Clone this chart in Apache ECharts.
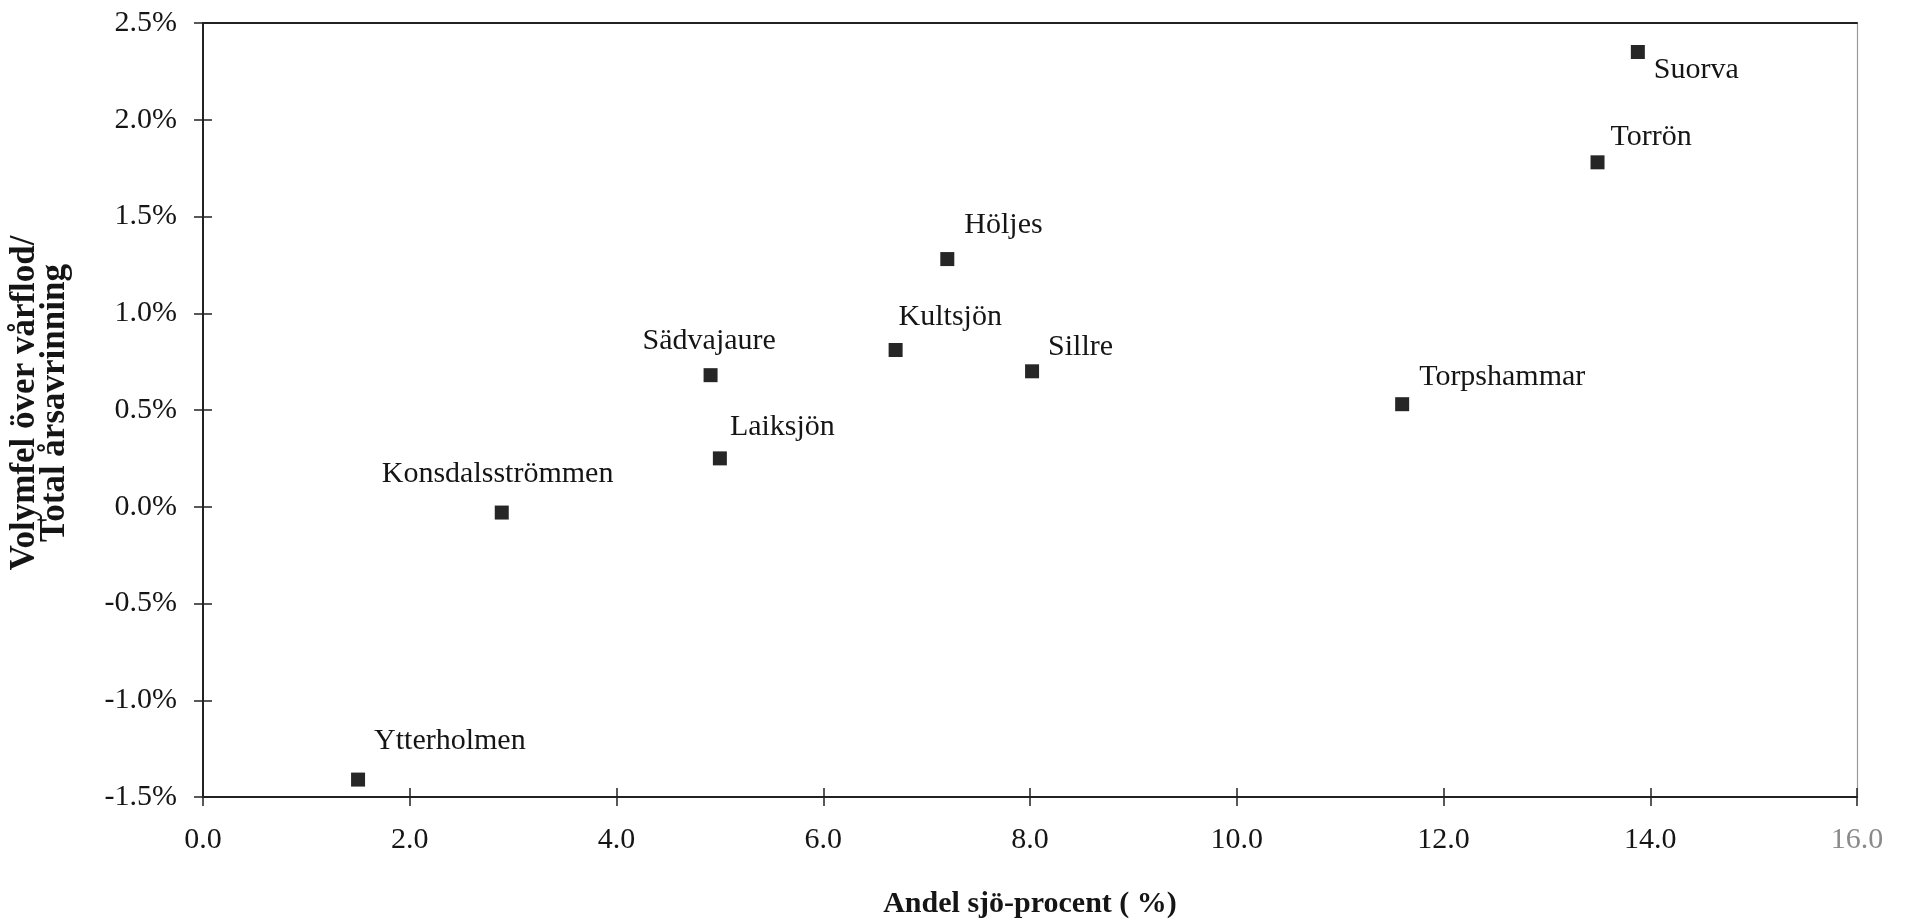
<!DOCTYPE html>
<html>
<head>
<meta charset="utf-8">
<title>Volymfel</title>
<script src="https://cdn.jsdelivr.net/npm/echarts@6/dist/echarts.min.js"></script>
<style>
	html, body { margin: 0; padding: 0; background: #fff; }
	#main { width: 1908px; height: 924px; }
</style>
</head>
<body>
<div id="main"></div>
<script>
	//stationer
	var stationNames = ['Suorva', 'Torrön', 'Höljes', 'Kultsjön', 'Sillre', 'Torpshammar', 'Sädvajaure', 'Laiksjön', 'Konsdalsströmmen', 'Ytterholmen'];
	//andel sjö (%)
	var lakePercent = [13.88, 13.49, 7.20, 6.70, 8.02, 11.60, 4.91, 5.00, 2.89, 1.50];
	//volymfel / total årsavrinning (%)
	var volumeError = [2.35, 1.78, 1.28, 0.81, 0.70, 0.53, 0.68, 0.25, -0.03, -1.41];
	//axlar
	var xTicks = [0, 2, 4, 6, 8, 10, 12, 14, 16];
	var yTicks = [-1.5, -1.0, -0.5, 0.0, 0.5, 1.0, 1.5, 2.0, 2.5];

	//etikettens förskjutning från punkten
	var labelOffsets = [[16, 18], [13, -25], [17, -34], [3, -33], [16, -24], [17, -27], [-68, -34], [10, -31], [-120, -38], [16, -38]];

	var fontName = '"Liberation Serif", "DejaVu Serif", serif';
	var textColor = '#151515';
	var lineColor = '#222';

	var points = [];
	for (var i = 0; i < stationNames.length; i++) {
		points.push({
			name: stationNames[i],
			value: [lakePercent[i], volumeError[i]],
			label: { offset: labelOffsets[i] }
		});
	}

	//gemensam axel utan etiketter (ram och inre tickmarkeringar)
	function plainAxis(pos, lo, hi, step, line, tick) {
		var ax = {
			type: 'value',
			min: lo,
			max: hi,
			position: pos,
			splitLine: { show: false },
			axisLine: line ? { show: true, onZero: false, lineStyle: line } : { show: false, onZero: false },
			axisTick: tick ? { show: true, inside: true, length: 9, lineStyle: { color: lineColor, width: 1.5 } } : { show: false },
			axisLabel: { show: false }
		};
		if (step) ax.interval = step;
		return ax;
	}

	var myChart = echarts.init(document.getElementById('main'));
	var option = {
		backgroundColor: '#fff',
		animation: false,
		grid: { left: 203, right: 51, top: 23, bottom: 127, outerBoundsMode: 'none', containLabel: false },
		xAxis: [{
			type: 'value',
			min: xTicks[0],
			max: xTicks[xTicks.length - 1],
			interval: 2,
			position: 'bottom',
			name: 'Andel sjö-procent ( %)',
			nameLocation: 'middle',
			nameGap: 92,
			nameTextStyle: { fontFamily: fontName, fontSize: 30, fontWeight: 'bold', color: textColor },
			splitLine: { show: false },
			axisLine: { onZero: false, lineStyle: { color: lineColor, width: 2 } },
			axisTick: { length: 9, lineStyle: { color: lineColor, width: 1.5 } },
			axisLabel: {
				margin: 28,
				fontFamily: fontName,
				fontSize: 30,
				color: textColor,
				formatter: function(v) {
					if (v == 16) return '{g|' + v.toFixed(1) + '}';
					return v.toFixed(1);
				},
				rich: { g: { fontFamily: fontName, fontSize: 30, color: '#8a8a8a' } }
			}
		},
		plainAxis('bottom', xTicks[0], xTicks[xTicks.length - 1], 2, null, true),
		plainAxis('top', xTicks[0], xTicks[xTicks.length - 1], 0, { color: lineColor, width: 2 }, false)
		],
		yAxis: [{
			type: 'value',
			min: yTicks[0],
			max: yTicks[yTicks.length - 1],
			interval: 0.5,
			position: 'left',
			name: 'Volymfel över vårflod/\nTotal årsavrinning',
			nameLocation: 'middle',
			nameRotate: 90,
			nameGap: 133,
			nameTextStyle: { fontFamily: fontName, fontSize: 35, fontWeight: 'bold', color: textColor, lineHeight: 30, padding: [0, 0, 0, 14] },
			splitLine: { show: false },
			axisLine: { onZero: false, lineStyle: { color: lineColor, width: 2 } },
			axisTick: { length: 9, lineStyle: { color: lineColor, width: 1.5 } },
			axisLabel: {
				margin: 26,
				fontFamily: fontName,
				fontSize: 30,
				color: textColor,
				formatter: function(v) {
					return v.toFixed(1) + '%';
				}
			}
		},
		plainAxis('left', yTicks[0], yTicks[yTicks.length - 1], 0.5, null, true),
		plainAxis('right', yTicks[0], yTicks[yTicks.length - 1], 0, { color: '#9a9a9a', width: 1.2 }, false)
		],
		series: [{
			type: 'scatter',
			xAxisIndex: 0,
			yAxisIndex: 0,
			symbol: 'rect',
			symbolSize: 14,
			itemStyle: { color: '#262626', opacity: 1 },
			label: {
				show: true,
				position: 'inside',
				align: 'left',
				verticalAlign: 'middle',
				fontFamily: fontName,
				fontSize: 30,
				color: textColor,
				textBorderWidth: 0,
				opacity: 1,
				formatter: function(p) {
					return p.name;
				}
			},
			data: points
		}]
	};
	myChart.setOption(option);
</script>
</body>
</html>
